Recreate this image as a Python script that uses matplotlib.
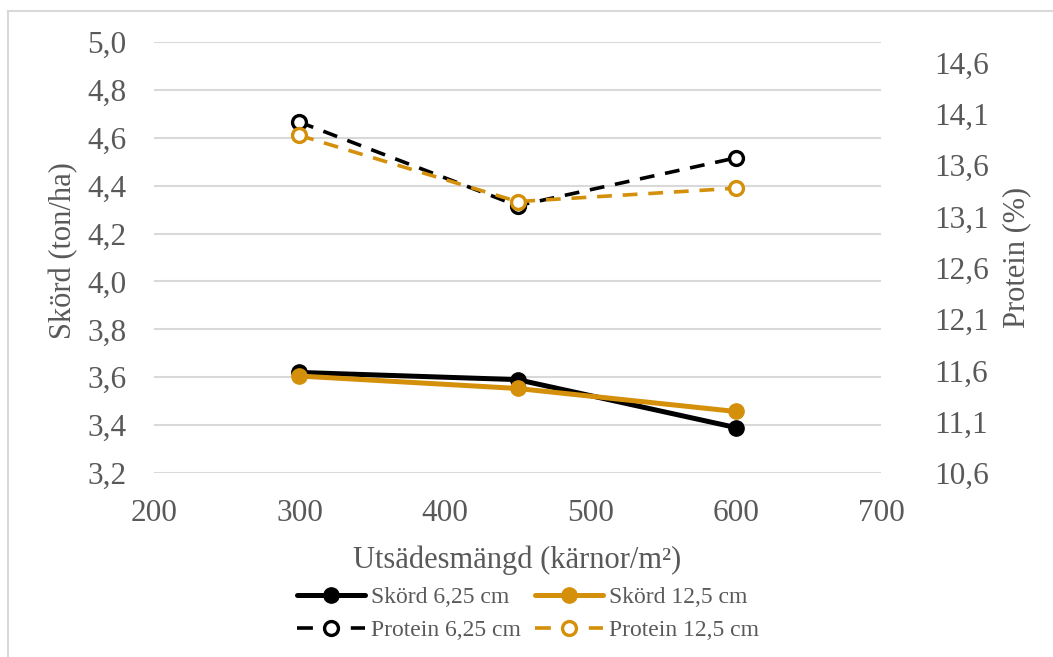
import matplotlib
matplotlib.use("Agg")
import matplotlib.pyplot as plt
from matplotlib.lines import Line2D
from matplotlib.ticker import FuncFormatter, FixedLocator

# Seed rate (kernels per m²)
seed_rate = [300, 450, 600]

# Yield (ton/ha), left axis
yield_625 = [3.62, 3.59, 3.39]
yield_125 = [3.605, 3.553, 3.457]

# Protein (%), right axis
protein_625 = [14.02, 13.205, 13.67]
protein_125 = [13.89, 13.245, 13.375]

x_ticks = [200, 300, 400, 500, 600, 700]
left_ticks = [3.2, 3.4, 3.6, 3.8, 4.0, 4.2, 4.4, 4.6, 4.8, 5.0]
right_ticks = [10.6, 11.1, 11.6, 12.1, 12.6, 13.1, 13.6, 14.1, 14.6]

BLACK = "#000000"
ORANGE = "#D4900A"
TEXT = "#595959"
GRID = "#D9D9D9"

plt.rcParams["font.family"] = ["Liberation Serif", "DejaVu Serif"]

fig = plt.figure(figsize=(10.53, 6.57), dpi=100)
ax = fig.add_axes([154 / 1053, 1 - 473 / 657, (881 - 154) / 1053, (473 - 42) / 657])
ax2 = ax.twinx()

comma = lambda fmt: FuncFormatter(lambda v, p: (fmt % v).replace(".", ","))

# Yield lines
l1, = ax.plot(seed_rate, yield_625, color=BLACK, lw=3.6, marker="o", ms=11,
              solid_capstyle="round", zorder=4)
l2, = ax.plot(seed_rate, yield_125, color=ORANGE, lw=3.6, marker="o", ms=11,
              solid_capstyle="round", zorder=5)

# Protein lines
dash = (0, (4.1, 3.0))
p1, = ax2.plot(seed_rate, protein_625, color=BLACK, lw=2.6, ls=dash, marker="o",
               ms=10, mfc="white", mec=BLACK, mew=2.4, zorder=4)
p2, = ax2.plot(seed_rate, protein_125, color=ORANGE, lw=2.6, ls=dash, marker="o",
               ms=10, mfc="white", mec=ORANGE, mew=2.4, zorder=5)

ax.set_xlim(200, 700)
ax.set_ylim(3.2, 5.0)
ax2.set_ylim(10.6, 14.8)

ax.xaxis.set_major_locator(FixedLocator(x_ticks))
ax.yaxis.set_major_locator(FixedLocator(left_ticks))
ax2.yaxis.set_major_locator(FixedLocator(right_ticks))
ax.yaxis.set_major_formatter(comma("%.1f"))
ax2.yaxis.set_major_formatter(comma("%.1f"))

ax.grid(axis="y", color=GRID, lw=1.5)
ax.set_axisbelow(True)
for a in (ax, ax2):
    for s in a.spines.values():
        s.set_visible(False)

ax.tick_params(axis="x", length=0, pad=19, labelsize=22.5, labelcolor=TEXT)
ax.tick_params(axis="y", length=0, pad=20, labelsize=22.5, labelcolor=TEXT)
ax2.tick_params(axis="y", length=0, pad=38, labelsize=22.5, labelcolor=TEXT)

ax.set_xlabel("Utsädesmängd (kärnor/m²)", fontsize=22, color=TEXT, labelpad=12)
ax.set_ylabel("Skörd (ton/ha)", fontsize=22, color=TEXT)
ax2.set_ylabel("Protein (%)", fontsize=22, color=TEXT, rotation=90)
ax.yaxis.set_label_coords((78 - 154) / 727, 0.515)
ax2.yaxis.set_label_coords((1002 - 154) / 727, 0.5)

leg = fig.legend([l1, p1, l2, p2],
                 ["Skörd 6,25 cm", "Protein 6,25 cm", "Skörd 12,5 cm", "Protein 12,5 cm"],
                 loc="center", bbox_to_anchor=(528 / 1053, 1 - 614 / 657), ncol=2,
                 frameon=False, fontsize=17, handlelength=2.9, handletextpad=0.25,
                 columnspacing=0.6, labelspacing=0.5, borderpad=0)
for t in leg.get_texts():
    t.set_color(TEXT)
# Legend keys for the dashed series: one short dash on each side of the marker
for h in (leg.legend_handles[1], leg.legend_handles[3]):
    h.set_linestyle((0, (4.4, 10.5)))

# Chart area border
fig.add_artist(Line2D([8 / 1053, 8 / 1053], [0, 1 - 11 / 657], transform=fig.transFigure,
                      color=GRID, lw=1.5))
fig.add_artist(Line2D([8 / 1053, 1], [1 - 11 / 657, 1 - 11 / 657], transform=fig.transFigure,
                      color=GRID, lw=1.5))

fig.savefig("out.png", dpi=100)
